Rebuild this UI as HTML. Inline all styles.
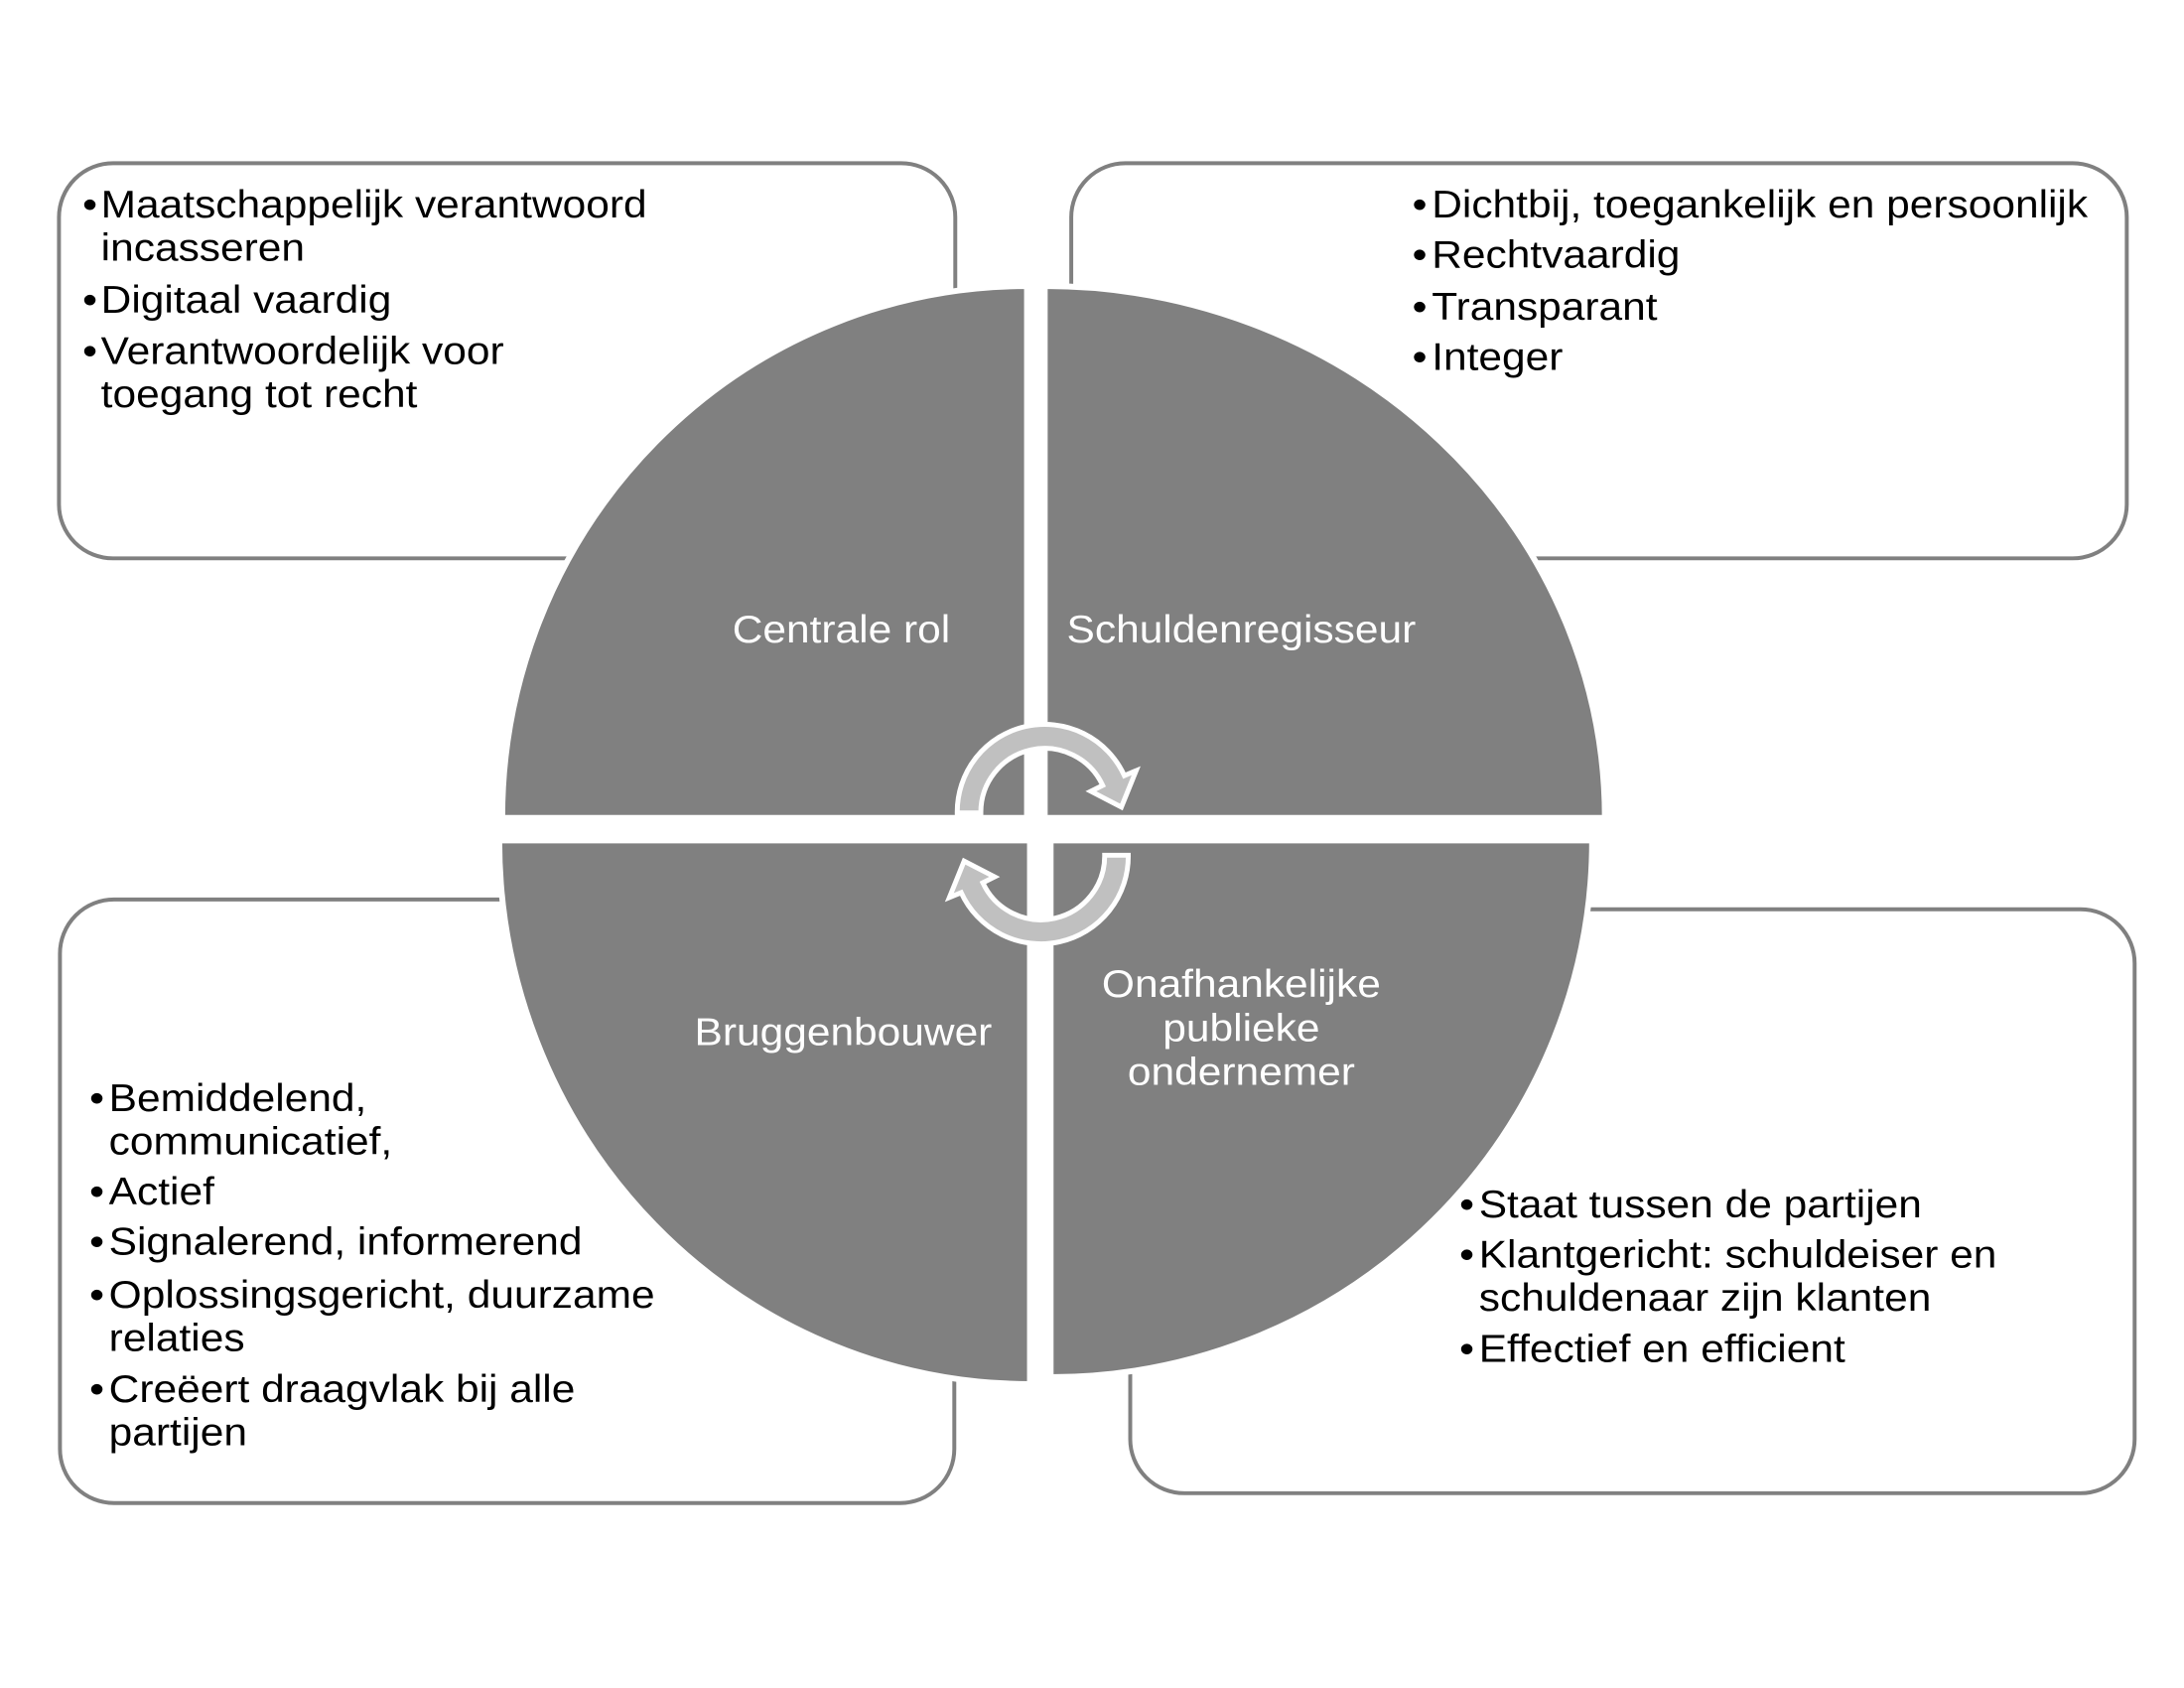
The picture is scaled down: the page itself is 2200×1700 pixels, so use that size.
<!DOCTYPE html>
<html><head><meta charset="utf-8"><style>
html,body{margin:0;padding:0;background:#fff;}
svg{display:block;}
text{font-family:"Liberation Sans",Arial,sans-serif;}
</style></head><body>
<svg width="2200" height="1700" viewBox="0 0 2200 1700" xmlns="http://www.w3.org/2000/svg">
<g transform="scale(0.99)">
<g fill="#fff" stroke="#808080" stroke-width="4">
<rect x="60" y="166" width="912" height="402" rx="55"/>
<rect x="1090" y="166" width="1074" height="402" rx="55"/>
<rect x="61" y="915" width="910" height="614" rx="55"/>
<rect x="1150" y="925" width="1022" height="594" rx="55"/>
</g>
<g fill="#808080" stroke="#fff" stroke-width="6">
<path d="M1045 832 L511 832 A534 541 0 0 1 1045 291 Z"/>
<path d="M1063 832 L1063 291 A570 541 0 0 1 1633 832 Z"/>
<path d="M1048 855 L1048 1408 A540 553 0 0 1 508 855 Z"/>
<path d="M1069 855 L1620 855 A551 546 0 0 1 1069 1401 Z"/>
</g>
<g fill="#c0c0c0" stroke="#fff" stroke-width="5" stroke-linejoin="miter">
<path transform="translate(6,9)" d="M968 818 A89 89 0 0 1 1138 780 L1150 775 L1135 812 L1104 796 L1116 790 A65 65 0 0 0 992 818 Z"/>
<path transform="translate(12,2) rotate(180 1052 843)" d="M968 818 A89 89 0 0 1 1138 780 L1150 775 L1135 812 L1104 796 L1116 790 A65 65 0 0 0 992 818 Z"/>
</g>
<g transform="translate(0,3)">
<g fill="#fff" font-size="39" text-anchor="middle" dominant-baseline="middle">
<g transform="translate(856,0) scale(1.1,1)"><text x="0" y="640">Centrale rol</text></g>
<g transform="translate(1263,0) scale(1.1,1)"><text x="0" y="640">Schuldenregisseur</text>
<text x="0" y="1001">Onafhankelijke</text>
<text x="0" y="1046">publieke</text>
<text x="0" y="1090">ondernemer</text></g>
<g transform="translate(858,0) scale(1.1,1)"><text x="0" y="1050">Bruggenbouwer</text></g>
</g>
<g fill="#000" font-size="39" dominant-baseline="middle">
<g transform="translate(84,0) scale(1.1,1)">
<text x="0" y="208">•</text><text x="17" y="208">Maatschappelijk verantwoord</text>
<text x="17" y="252">incasseren</text>
<text x="0" y="305">•</text><text x="17" y="305">Digitaal vaardig</text>
<text x="0" y="357">•</text><text x="17" y="357">Verantwoordelijk voor</text>
<text x="17" y="401">toegang tot recht</text>
</g>
<g transform="translate(1437,0) scale(1.1,1)">
<text x="0" y="208">•</text><text x="18" y="208">Dichtbij, toegankelijk en persoonlijk</text>
<text x="0" y="259">•</text><text x="18" y="259">Rechtvaardig</text>
<text x="0" y="312">•</text><text x="18" y="312">Transparant</text>
<text x="0" y="363">•</text><text x="18" y="363">Integer</text>
</g>
<g transform="translate(91,0) scale(1.1,1)">
<text x="0" y="1117">•</text><text x="18" y="1117">Bemiddelend,</text>
<text x="18" y="1161">communicatief,</text>
<text x="0" y="1212">•</text><text x="18" y="1212">Actief</text>
<text x="0" y="1263">•</text><text x="18" y="1263">Signalerend, informerend</text>
<text x="0" y="1317">•</text><text x="18" y="1317">Oplossingsgericht, duurzame</text>
<text x="18" y="1361">relaties</text>
<text x="0" y="1413">•</text><text x="18" y="1413">Creëert draagvlak bij alle</text>
<text x="18" y="1457">partijen</text>
</g>
<g transform="translate(1485,0) scale(1.1,1)">
<text x="0" y="1225">•</text><text x="18" y="1225">Staat tussen de partijen</text>
<text x="0" y="1276">•</text><text x="18" y="1276">Klantgericht: schuldeiser en</text>
<text x="18" y="1320">schuldenaar zijn klanten</text>
<text x="0" y="1372">•</text><text x="18" y="1372">Effectief en efficient</text>
</g>
</g>
</g>
</g>
</svg>
</body></html>
